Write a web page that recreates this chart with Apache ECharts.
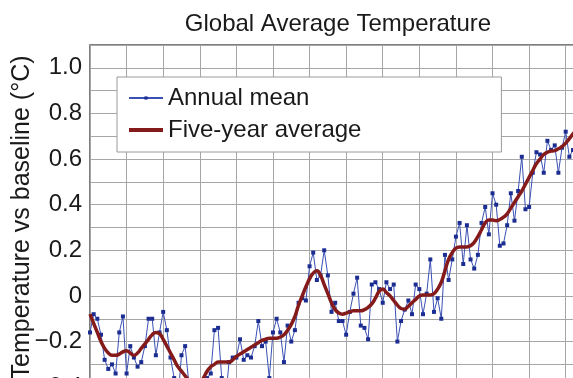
<!DOCTYPE html>
<html>
<head>
<meta charset="utf-8">
<script src="https://cdn.jsdelivr.net/npm/echarts@6/dist/echarts.min.js"></script>
<style>
  html, body { margin: 0; padding: 0; background: #fff; }
  #main { width: 573px; height: 378px; }
</style>
</head>
<body>
<div id="main"></div>
<script>
// first year of both series, one value per year after it
var firstYear = 1880;

// annual mean anomaly (°C), 1880 - 2014
var annualMean = [
  -0.16, -0.08, -0.10, -0.17, -0.28, -0.32, -0.30, -0.34, -0.16, -0.09,
  -0.34, -0.22, -0.27, -0.31, -0.29, -0.22, -0.10, -0.10, -0.26, -0.16,
  -0.07, -0.15, -0.27, -0.36, -0.46, -0.26, -0.22, -0.38, -0.42, -0.48,
  -0.43, -0.44, -0.36, -0.34, -0.15, -0.14, -0.36, -0.46, -0.29, -0.27,
  -0.27, -0.19, -0.28, -0.26, -0.27, -0.22, -0.11, -0.22, -0.20, -0.36,
  -0.16, -0.10, -0.16, -0.29, -0.13, -0.20, -0.15, -0.03, -0.01, -0.02,
   0.13,  0.19,  0.07,  0.09,  0.20,  0.09, -0.07, -0.03, -0.11, -0.11,
  -0.17, -0.07,  0.01,  0.08, -0.13, -0.14, -0.19,  0.05,  0.06,  0.03,
  -0.03,  0.06,  0.03,  0.05, -0.20, -0.11, -0.06, -0.02, -0.08,  0.05,
   0.03, -0.08,  0.01,  0.16, -0.07, -0.01, -0.10,  0.18,  0.07,  0.16,
   0.26,  0.32,  0.14,  0.31,  0.16,  0.12,  0.18,  0.32,  0.39,  0.27,
   0.45,  0.40,  0.22,  0.23,  0.31,  0.45,  0.33,  0.46,  0.61,  0.38,
   0.39,  0.54,  0.63,  0.62,  0.54,  0.68,  0.64,  0.66,  0.54,  0.65,
   0.72,  0.61,  0.64,  0.68,  0.75
];

// five-year average (°C), 1880 - 2014
var fiveYear = [
  -0.08, -0.12, -0.16, -0.20, -0.23, -0.25, -0.26, -0.26, -0.255, -0.245,
  -0.24, -0.25, -0.26, -0.25, -0.23, -0.21, -0.19, -0.17, -0.16, -0.165,
  -0.19, -0.22, -0.25, -0.28, -0.31, -0.33, -0.35, -0.37, -0.39, -0.40,
  -0.39, -0.36, -0.33, -0.31, -0.30, -0.29, -0.29, -0.29, -0.29, -0.28,
  -0.265, -0.255, -0.245, -0.235, -0.225, -0.215, -0.205, -0.195, -0.19, -0.185,
  -0.185, -0.185, -0.18, -0.17, -0.15, -0.125, -0.09, -0.04, 0.00, 0.04,
   0.075, 0.10, 0.11, 0.09, 0.05, 0.01, -0.03, -0.06, -0.075, -0.08,
  -0.075, -0.07, -0.065, -0.065, -0.065, -0.06, -0.05, -0.035, -0.01, 0.02,
   0.03, 0.015, 0.00, -0.02, -0.04, -0.055, -0.058, -0.045, -0.03, -0.015,
   0.00, 0.004, 0.004, 0.004, 0.01, 0.03, 0.06, 0.11, 0.16, 0.19,
   0.21, 0.215, 0.215, 0.215, 0.22, 0.235, 0.26, 0.29, 0.32, 0.333,
   0.333, 0.33, 0.335, 0.345, 0.36, 0.385, 0.41, 0.435, 0.46, 0.49,
   0.52, 0.55, 0.58, 0.60, 0.62, 0.63, 0.635, 0.637, 0.645, 0.655,
   0.67, 0.69, 0.71, 0.73, 0.75
];

function pairs(values) {
  return values.map(function (v, i) { return [firstYear + i, v]; });
}

var font = 'Liberation Sans, Arial, sans-serif';

var myChart = echarts.init(document.getElementById('main'));
myChart.setOption({
  animation: false,
  backgroundColor: '#fff',
  title: {
    text: 'Global Average Temperature',
    left: 333,
    top: 7,
    textAlign: 'center',
    textStyle: { fontFamily: font, fontSize: 24, fontWeight: 'normal', color: '#1a1a1a' }
  },
  legend: {
    orient: 'vertical',
    left: 117,
    top: 77,
    padding: [9, 140, 10, 11],
    itemWidth: 34,
    itemHeight: 4,
    itemGap: 8,
    backgroundColor: '#fff',
    borderColor: '#9a9a9a',
    borderWidth: 1,
    borderRadius: 0,
    textStyle: { fontFamily: font, fontSize: 24, color: '#1a1a1a', lineHeight: 24 },
    data: ['Annual mean', { name: 'Five-year average', icon: 'rect' }]
  },
  grid: {
    left: 90,
    top: 45,
    width: 494,
    height: 365,
    outerBoundsMode: 'none',
    containLabel: false,
    show: true,
    borderColor: '#555',
    borderWidth: 1.5,
    backgroundColor: '#fff'
  },
  xAxis: {
    type: 'value',
    min: 1880,
    max: 2015,
    interval: 10,
    axisLine: { show: false },
    axisTick: { show: false },
    axisLabel: { show: false },
    splitLine: { show: true, lineStyle: { color: '#a6a6a6', width: 1 } }
  },
  yAxis: {
    type: 'value',
    min: -0.5,
    max: 1.1,
    interval: 0.1,
    name: 'Temperature vs baseline (°C)',
    nameLocation: 'middle',
    nameGap: 55,
    nameMoveOverlap: false,
    nameTextStyle: { fontFamily: font, fontSize: 25, color: '#1a1a1a', padding: [0, 0, 0, 20] },
    axisLine: { show: false },
    axisTick: { show: false },
    axisLabel: {
      margin: 8,
      fontFamily: font,
      fontSize: 24,
      color: '#1a1a1a',
      formatter: function (v) {
        var t = Math.round(v * 10);
        if (t % 2 !== 0 || t > 10) return '';
        if (t === 0) return '0';
        return (t / 10).toFixed(1).replace('-', '\u2212');
      }
    },
    splitLine: { show: true, lineStyle: { color: '#a6a6a6', width: 1 } }
  },
  series: [
    {
      name: 'Annual mean',
      type: 'line',
      data: pairs(annualMean),
      symbol: 'rect',
      symbolSize: 4,
      showAllSymbol: true,
      itemStyle: { color: '#1c2d92' },
      lineStyle: { color: '#3a50b4', width: 1 },
      z: 2
    },
    {
      name: 'Five-year average',
      type: 'line',
      data: pairs(fiveYear),
      symbol: 'none',
      smooth: true,
      itemStyle: { color: '#841a1a' },
      lineStyle: { color: '#841a1a', width: 3.5 },
      z: 3
    }
  ]
});
</script>
</body>
</html>
